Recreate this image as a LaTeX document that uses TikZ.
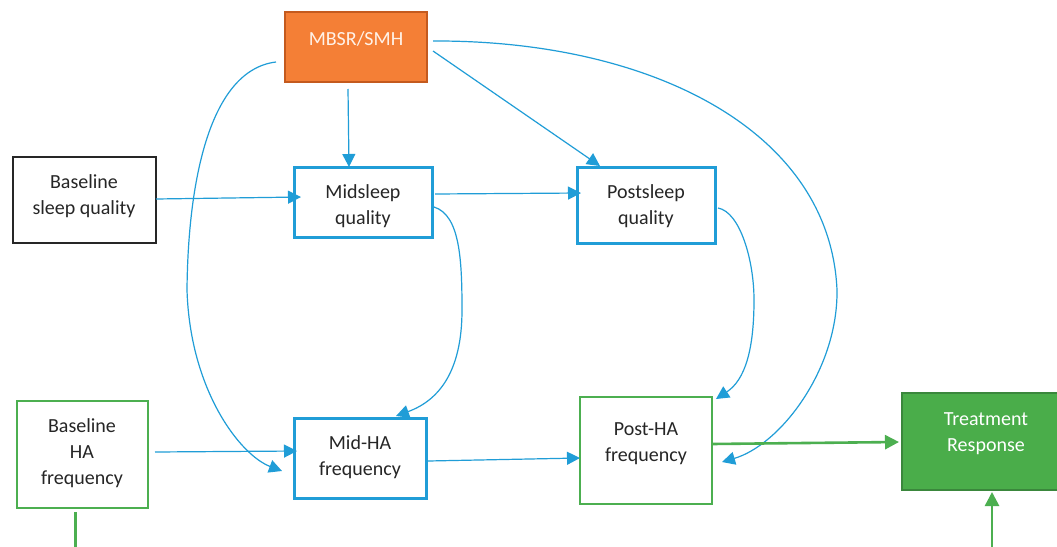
\documentclass[tikz,border=0pt]{standalone}
\usepackage{fontspec}
\setmainfont{Carlito}
\usetikzlibrary{arrows.meta}

\definecolor{linkblue}{RGB}{32,157,215}
\definecolor{mbsrfill}{RGB}{244,127,54}
\definecolor{mbsrdraw}{RGB}{196,90,30}
\definecolor{hagreen}{RGB}{76,175,80}
\definecolor{trfill}{RGB}{74,173,74}
\definecolor{trdraw}{RGB}{58,135,60}
\definecolor{ink}{RGB}{38,38,38}

\tikzset{
  box/.style={rectangle, line width=2.5pt, inner sep=0pt},
  sleepbox/.style={box, line width=3pt, draw=linkblue, fill=white},
  habox/.style={box, draw=hagreen, fill=white},
  label text/.style={inner sep=0pt, align=center, text=ink,
    font=\fontsize{20}{26}\selectfont},
  link/.style={draw=linkblue, line width=1.2pt,
    -{Triangle[length=13pt,width=13pt]}},
  greenlink/.style={draw=hagreen, line width=2.6pt,
    -{Triangle[length=14pt,width=14pt]}},
}

\begin{document}
\begin{tikzpicture}[x=1pt,y=-1pt]
\clip (0,0) rectangle (1057,546);
\fill[white] (0,0) rectangle (1057,546);

% boxes
\node[box, draw=mbsrdraw, fill=mbsrfill, minimum width=142pt, minimum height=70pt] (mbsr) at (356,47) {};
\node[box, draw=black!85, fill=white, minimum width=143pt, minimum height=86pt] (bsleep) at (84.5,200) {};
\node[sleepbox, minimum width=138pt, minimum height=70pt] (msleep) at (363,202) {};
\node[sleepbox, minimum width=138pt, minimum height=76pt] (psleep) at (646,205) {};
\node[habox, minimum width=131pt, minimum height=107pt] (bha) at (82.5,454.5) {};
\node[box, line width=3pt, draw=linkblue, fill=white, minimum width=132pt, minimum height=80pt] (mha) at (360,458) {};
\node[habox, minimum width=132pt, minimum height=107pt] (pha) at (646,450.5) {};
\node[box, draw=trdraw, fill=trfill, minimum width=168pt, minimum height=97pt] (tr) at (986,441.5) {};

% box texts
\node[label text, text={rgb,255:red,255;green,242;blue,232}] (mbsrT) at (356,39) {MBSR/SMH};
\node[label text] (bsleepT) at (84,196.5) {Baseline\\sleep quality};
\node[label text] (msleepT) at (363,206) {Midsleep\\quality};
\node[label text] (psleepT) at (646,206) {Postsleep\\quality};
\node[label text] (bhaT) at (82,453.5) {Baseline\\HA\\frequency};
\node[label text] (mhaT) at (360,457) {Mid-HA\\frequency};
\node[label text] (phaT) at (646,443.5) {Post-HA\\frequency};
\node[label text, text=white] (trT) at (986,434) {Treatment\\Response};

% connector end points
\coordinate (mbsrS) at (348,89);
\coordinate (msleepN) at (349,167);
\coordinate (mbsrE1) at (433,51);
\coordinate (psleepN) at (600,166);
\coordinate (mbsrE2) at (433,41);
\coordinate (phaE) at (722,462);
\coordinate (mbsrW) at (276,62);
\coordinate (mhaW) at (282,471);
\coordinate (bsleepE) at (156,199);
\coordinate (msleepW) at (301,197);
\coordinate (msleepE) at (435,194);
\coordinate (psleepW) at (581,193);
\coordinate (msleepE2) at (434,207);
\coordinate (mhaN) at (396,416);
\coordinate (psleepE) at (718,208);
\coordinate (phaN) at (716,399);
\coordinate (bhaE) at (155,452);
\coordinate (mhaWa) at (297,451);
\coordinate (mhaE) at (428,461);
\coordinate (phaW) at (580,458);
\coordinate (phaE2) at (712,444);
\coordinate (trW) at (899,442);
\coordinate (bhaS) at (75,512);
\coordinate (bhaOut) at (75,560);
\coordinate (trIn) at (992,560);
\coordinate (trS) at (992,492);

% straight links
\draw[link] (mbsrS) -- (msleepN);
\draw[link] (mbsrE1) -- (psleepN);
\draw[link] (bsleepE) -- (msleepW);
\draw[link] (msleepE) -- (psleepW);
\draw[link] (bhaE) -- (mhaWa);
\draw[link] (mhaE) -- (phaW);

% curved links
\draw[link] (mbsrE2) .. controls (650,40) and (830,130) .. (837,290)
  .. controls (838,370) and (780,445) .. (phaE);
\draw[link] (mbsrW) .. controls (210,70) and (188,180) .. (187,290)
  .. controls (190,390) and (240,455) .. (mhaW);
\draw[link] (msleepE2) .. controls (460,215) and (462,260) .. (462,310)
  .. controls (462,370) and (440,400) .. (mhaN);
\draw[link] (psleepE) .. controls (740,212) and (754,260) .. (754,300)
  .. controls (754,350) and (745,380) .. (phaN);

% outcome links
\draw[greenlink] (phaE2) -- (trW);
\draw[greenlink] (trIn) -- (trS);
\draw[draw=hagreen, line width=3pt] (bhaS) -- (bhaOut);
\end{tikzpicture}
\end{document}
